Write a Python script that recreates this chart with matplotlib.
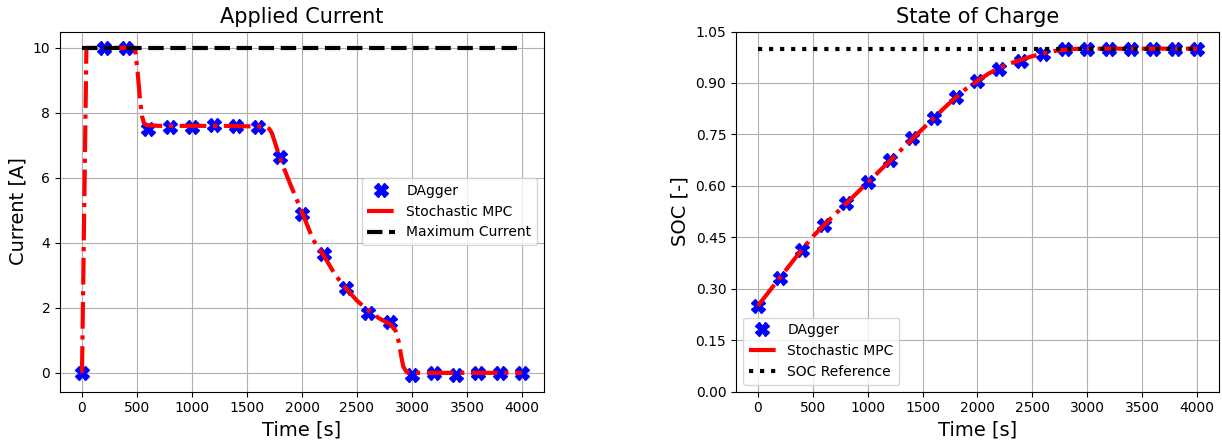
import matplotlib
matplotlib.use("Agg")
import matplotlib.pyplot as plt
import numpy as np

# DAgger samples (every 200 s)
t_dagger = [0, 200, 400, 600, 800, 1000, 1200, 1400, 1600, 1800, 2000,
            2200, 2400, 2600, 2800, 3000, 3200, 3400, 3600, 3800, 4000]
i_dagger = [0.0, 10.0, 10.0, 7.5, 7.58, 7.58, 7.63, 7.59, 7.57, 6.63, 4.9,
            3.65, 2.62, 1.85, 1.57, -0.07, 0.0, -0.07, 0.0, 0.0, 0.0]
soc_dagger = [0.25, 0.332, 0.413, 0.486, 0.551, 0.611, 0.674, 0.738, 0.799,
              0.859, 0.906, 0.940, 0.965, 0.984, 0.998, 1.0, 1.0, 1.0, 1.0,
              1.0, 1.0]

# stochastic MPC trajectory
t_mpc_i = [0, 40, 480, 505, 525, 545, 565, 590, 700, 1000, 1300, 1600, 1680,
           1705, 1727, 1757, 1800, 1900, 2000, 2100, 2200, 2300, 2400, 2500,
           2600, 2700, 2800, 2850, 2880, 2900, 2920, 2950, 3000, 4000]
i_mpc = [0.0, 10.0, 10.0, 9.3, 8.5, 7.9, 7.67, 7.62, 7.6, 7.6, 7.6, 7.58,
         7.56, 7.5, 7.37, 7.06, 6.6, 5.75, 4.95, 4.1, 3.6, 3.02, 2.6, 2.22,
         1.93, 1.68, 1.5, 1.3, 0.95, 0.55, 0.2, 0.03, 0.0, 0.0]

t_mpc_soc = [0, 200, 400, 500, 600, 800, 1000, 1200, 1400, 1600, 1700, 1800,
             1900, 2000, 2100, 2200, 2300, 2400, 2500, 2600, 2700, 2800, 2900,
             3000, 4000]
soc_mpc = [0.25, 0.332, 0.414, 0.452, 0.485, 0.547, 0.610, 0.672, 0.735,
           0.797, 0.828, 0.857, 0.884, 0.906, 0.927, 0.944, 0.957, 0.968,
           0.978, 0.986, 0.993, 0.997, 0.9995, 1.0, 1.0]

t_limit = [0, 4000]
i_max = [10, 10]
soc_ref = [1.0, 1.0]

fig = plt.figure(figsize=(12.22, 4.41), dpi=100)
ax1 = fig.add_axes([60 / 1222, 49.5 / 441, 484 / 1222, 360 / 441])
ax2 = fig.add_axes([736 / 1222, 49.5 / 441, 483 / 1222, 360 / 441])

# current
ax1.plot(t_dagger, i_dagger, 'bX', markersize=10, label='DAgger')
ax1.plot(t_mpc_i, i_mpc, 'r-.', linewidth=3, label='Stochastic MPC')
ax1.plot(t_limit, i_max, 'k--', linewidth=3, label='Maximum Current')
ax1.set_title('Applied Current', fontsize=15)
ax1.set_xlabel('Time [s]', fontsize=14)
ax1.set_ylabel('Current [A]', fontsize=14)
ax1.set_xticks(np.arange(0, 4001, 500))
ax1.tick_params(labelsize=10)
ax1.grid(True)
ax1.legend(loc='center right', fontsize=10)

# state of charge
ax2.plot(t_dagger, soc_dagger, 'bX', markersize=10, label='DAgger')
ax2.plot(t_mpc_soc, soc_mpc, 'r-.', linewidth=3, label='Stochastic MPC')
ax2.plot(t_limit, soc_ref, 'k:', linewidth=3, label='SOC Reference')
ax2.set_title('State of Charge', fontsize=15)
ax2.set_xlabel('Time [s]', fontsize=14)
ax2.set_ylabel('SOC [-]', fontsize=14)
ax2.set_xticks(np.arange(0, 4001, 500))
ax2.set_yticks(np.arange(0, 1.06, 0.15))
ax2.set_ylim(0, 1.05)
ax2.tick_params(labelsize=10)
ax2.grid(True)
ax2.legend(loc='lower left', fontsize=10)

plt.savefig('out.png', dpi=100)
